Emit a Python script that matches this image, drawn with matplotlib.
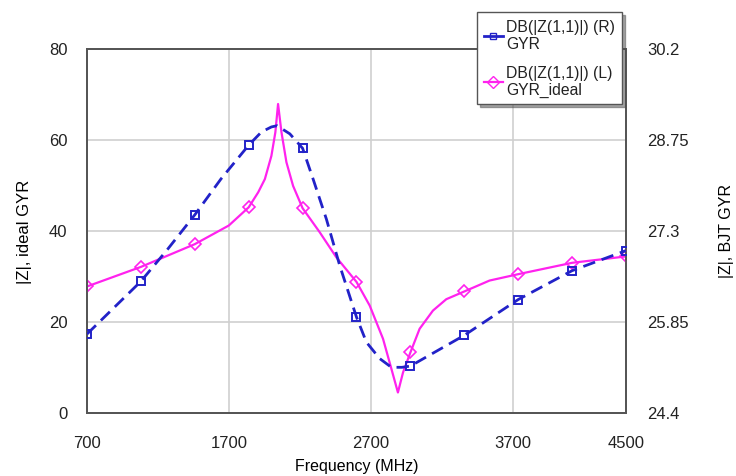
import matplotlib
matplotlib.use("Agg")
import matplotlib.pyplot as plt
from matplotlib.lines import Line2D

plt.rcParams['font.family'] = ['Liberation Sans', 'DejaVu Sans']

# Marker frequencies (MHz)
marker_freq = [700, 1080, 1460, 1840, 2220, 2600, 2980, 3360, 3740, 4120, 4500]
# GYR (BJT) values on right axis, at markers
gyr_markers = [25.65, 26.49, 27.55, 28.66, 28.61, 25.92, 25.14, 25.63, 26.20, 26.66, 26.98]
# GYR_ideal values on left axis, at markers
ideal_markers = [27.7, 32.0, 37.0, 45.1, 44.9, 28.7, 13.2, 26.6, 30.4, 32.9, 34.3]

# Curve traces
gyr_curve_freq = [700, 1080, 1268, 1460, 1644, 1840, 1930, 2000, 2040, 2130, 2220, 2294,
                  2388, 2482, 2600, 2670, 2763, 2846, 2920, 2980, 3360, 3740, 4120, 4500]
gyr_curve_val = [25.65, 26.49, 27.00, 27.55, 28.12, 28.66, 28.87, 28.95, 28.97, 28.84, 28.61,
                 28.12, 27.48, 26.74, 25.92, 25.52, 25.26, 25.12, 25.12, 25.14, 25.63, 26.20,
                 26.66, 26.98]

ideal_curve_freq = [700, 1080, 1460, 1700, 1840, 1907, 1954, 2000, 2028, 2047, 2071, 2106,
                    2153, 2220, 2341, 2458, 2600, 2693, 2787, 2846, 2892, 2928, 2980, 3045,
                    3139, 3233, 3360, 3538, 3740, 4120, 4500]
ideal_curve_val = [27.7, 32.0, 37.0, 41.1, 45.1, 48.4, 51.3, 56.4, 61.6, 67.8, 61.6, 55.0,
                   49.8, 44.9, 39.6, 34.1, 28.7, 23.5, 16.2, 9.6, 4.4, 8.8, 13.2, 18.4,
                   22.4, 24.9, 26.6, 29.0, 30.4, 32.9, 34.3]

x_ticks = [700, 1700, 2700, 3700, 4500]
left_ticks = [0, 20, 40, 60, 80]
right_ticks = [24.4, 25.85, 27.3, 28.75, 30.2]
right_tick_labels = ["24.4", "25.85", "27.3", "28.75", "30.2"]

blue = "#2222c8"
pink = "#ff22ee"
grid_c = "#cfcfcf"
frame_c = "#555555"

fig = plt.figure(figsize=(7.36, 4.77), dpi=100)
ax = fig.add_axes([87/736, 1-413.5/477, (626-87)/736, (413.5-49.5)/477])
ax2 = ax.twinx()

ax.set_xlim(700, 4500)
ax.set_ylim(0, 80)
ax2.set_ylim(24.4, 30.2)

ax.set_xticks(x_ticks)
ax.set_yticks(left_ticks)
ax2.set_yticks(right_ticks)
ax2.set_yticklabels(right_tick_labels)

ax.grid(True, color=grid_c, linewidth=1.2)
ax.set_axisbelow(True)

ax.plot(ideal_curve_freq, ideal_curve_val, color=pink, linewidth=1.6, zorder=3)
ax.plot(marker_freq, ideal_markers, linestyle='none', marker='D', markersize=6.5,
        markerfacecolor='none', markeredgecolor=pink, markeredgewidth=1.2, zorder=4)

ax2.plot(gyr_curve_freq, gyr_curve_val, color=blue, linewidth=2.0, dashes=(4.5, 2.5), zorder=3)
ax2.plot(marker_freq, gyr_markers, linestyle='none', marker='s', markersize=5.5,
         markerfacecolor='none', markeredgecolor=blue, markeredgewidth=1.4, zorder=4)

for a in (ax, ax2):
    for s in a.spines.values():
        s.set_color(frame_c)
        s.set_linewidth(1.3)
    a.tick_params(length=0, labelsize=12, colors='#222222')
ax.tick_params(axis='y', pad=14)
ax.tick_params(axis='x', pad=16)
ax2.tick_params(axis='y', pad=15)

ax.set_xlabel("Frequency (MHz)", fontsize=11.5, labelpad=6)
ax.set_ylabel("|Z|, ideal GYR", fontsize=12, labelpad=12)
ax2.set_ylabel("|Z|, BJT GYR", fontsize=11.5)
ax2.yaxis.set_label_coords((719 - 87) / 539, 0.5)

handles = [
    Line2D([0], [0], color=blue, linewidth=2, marker='s', markersize=5,
           markerfacecolor='none', markeredgecolor=blue),
    Line2D([0], [0], color=pink, linewidth=1.6, marker='D', markersize=6,
           markerfacecolor='none', markeredgecolor=pink),
]
labels = ["DB(|Z(1,1)|) (R)\nGYR", "DB(|Z(1,1)|) (L)\nGYR_ideal"]
leg = fig.legend(handles, labels, loc='upper left', bbox_to_anchor=(477/736, 1-13/477),
                 fontsize=11.3, frameon=True, fancybox=False, shadow=True,
                 handlelength=1.2, handletextpad=0.2, borderpad=0.45, labelspacing=0.85,
                 borderaxespad=0)
leg.get_frame().set_edgecolor(frame_c)
leg.get_frame().set_linewidth(1.0)
for t in leg.get_texts():
    t.set_color('#222222')

fig.savefig("out.png", dpi=100)
